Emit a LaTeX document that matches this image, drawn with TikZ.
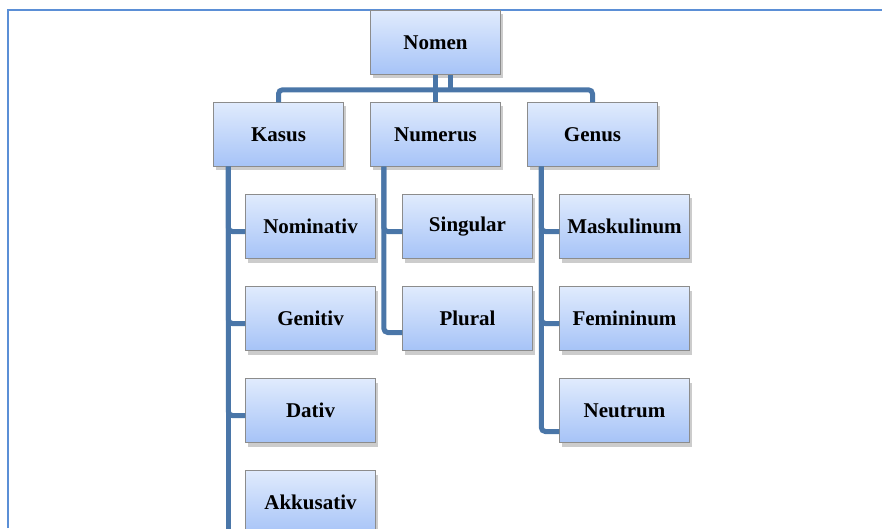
\documentclass[tikz,border=0pt]{standalone}
\usepackage{fontspec}
\setmainfont{Liberation Serif}
\usetikzlibrary{shadows}
\definecolor{bleulien}{RGB}{74,118,168}
\definecolor{haut}{RGB}{224,235,253}
\definecolor{bas}{RGB}{166,195,247}
\definecolor{cadre}{RGB}{91,143,214}

\begin{document}
\begin{tikzpicture}[
        x=1pt, y=1pt,
        node distance={92pt},
        main/.style = {draw=gray!90, top color=haut, bottom color=bas,
            minimum width=130pt, minimum height=64pt,
            font=\fontsize{21}{25}\selectfont\bfseries,
            drop shadow={opacity=0.4, shadow xshift=2pt, shadow yshift=-4pt}},
        trait/.style = {draw=bleulien, line width=5pt, rounded corners=4pt}
    ]
        \useasboundingbox (0,0) rectangle (882,528);
        % Cadre de la page
        \draw[cadre, line width=1.5pt] (8,0) -- (8,518) -- (882,518);

        % Définition des nœuds (positionnement relatif)
        \node[main] (Nomen) at (435.5,485.5) {Nomen};
        \node[main] (Numerus) [below of=Nomen] {Numerus};
        \node[main] (Kasus) [left of=Numerus, xshift=-65pt] {Kasus};
        \node[main] (Genus) [right of=Numerus, xshift=65pt] {Genus};

        \node[main] (Nominativ) [below of=Kasus, xshift=32pt] {Nominativ};
        \node[main] (Genitiv) [below of=Nominativ] {Genitiv};
        \node[main] (Dativ) [below of=Genitiv] {Dativ};
        \node[main] (Akkusativ) [below of=Dativ] {Akkusativ};

        \node[main] (Singular) [below of=Numerus, xshift=32pt] {Singular};
        \node[main] (Plural) [below of=Singular] {Plural};

        \node[main] (Maskulinum) [below of=Genus, xshift=32pt] {Maskulinum};
        \node[main] (Femininum) [below of=Maskulinum] {Femininum};
        \node[main] (Neutrum) [below of=Femininum] {Neutrum};

        % Liens sous Nomen
        \coordinate (barre) at ([yshift=12.5pt]Numerus.north);
        \draw[trait] (Nomen.south) -- (Numerus.north);
        \draw[trait] ([xshift=15pt]Nomen.south) -- ([xshift=15pt]barre);
        \draw[trait] (Kasus.north) |- (barre) -| (Genus.north);

        % Liens des sous-catégories
        \coordinate (fin) at ([xshift=15pt]Kasus.south west |- 0,-10);
        \draw[trait] ([xshift=15pt]Kasus.south west) -- (fin);
        \draw[trait] ([xshift=15pt]Kasus.south west) |- ([yshift=-5pt]Nominativ.west);
        \draw[trait] ([xshift=15pt]Kasus.south west) |- ([yshift=-5pt]Genitiv.west);
        \draw[trait] ([xshift=15pt]Kasus.south west) |- ([yshift=-5pt]Dativ.west);

        \draw[trait] ([xshift=13.5pt]Numerus.south west) |- ([yshift=-5pt]Singular.west);
        \draw[trait] ([xshift=13.5pt]Numerus.south west) |- ([yshift=-14pt]Plural.west);

        \draw[trait] ([xshift=14pt]Genus.south west) |- ([yshift=-5pt]Maskulinum.west);
        \draw[trait] ([xshift=14pt]Genus.south west) |- ([yshift=-5pt]Femininum.west);
        \draw[trait] ([xshift=14pt]Genus.south west) |- ([yshift=-21pt]Neutrum.west);

    \end{tikzpicture}
\end{document}
